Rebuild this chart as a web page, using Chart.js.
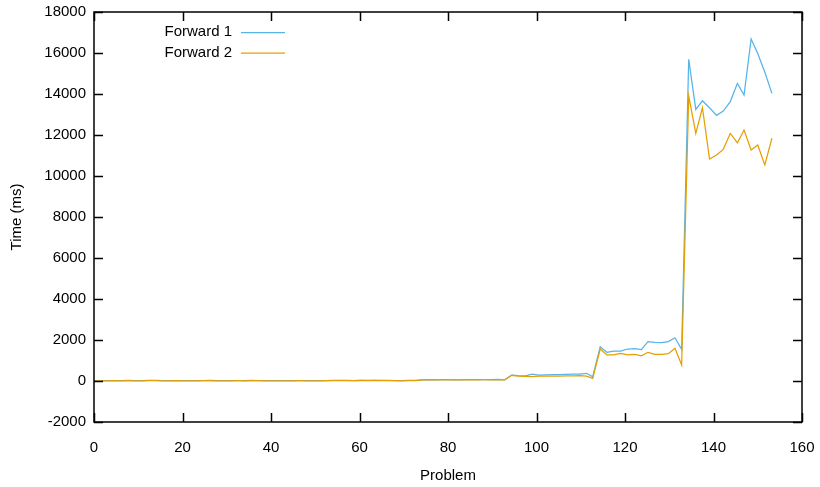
<!DOCTYPE html>
<html>
<head>
<meta charset="utf-8">
<script src="https://cdn.jsdelivr.net/npm/chart.js@4/dist/chart.umd.min.js"></script>
<style>
  html, body { margin: 0; padding: 0; background: #fff; }
  #wrap { width: 820px; height: 487px; }
</style>
</head>
<body>
<div id="wrap"><canvas id="chart" width="820" height="487"></canvas></div>
<script>
// problem numbers (x)
const problems = [
    0, 1.5, 3.1, 4.6, 6.2, 7.7, 9.3, 10.8, 12.4, 13.9,
    15.5, 17.0, 18.6, 20.1, 21.7, 23.2, 24.8, 26.3, 27.8, 29.4,
    30.9, 32.5, 34.0, 35.6, 37.1, 38.7, 40.2, 41.8, 43.3, 44.9,
    46.4, 48.0, 49.5, 51.1, 52.6, 54.1, 55.7, 57.2, 58.8, 60.3,
    61.9, 63.4, 65.0, 66.5, 68.1, 69.6, 71.2, 72.7, 74.3, 75.8,
    77.4, 78.9, 80.4, 82.0, 83.5, 85.1, 86.6, 88.2, 89.7, 91.3,
    92.8, 94.4, 95.9, 97.5, 99.0, 100.6, 102.1, 103.7, 105.2, 106.7,
    108.3, 109.8, 111.3, 112.7, 114.4, 115.9, 117.4, 119.0, 120.6, 122.2,
    123.7, 125.2, 126.7, 128.3, 129.8, 131.3, 132.8, 134.4, 136.0, 137.5,
    139.1, 140.7, 142.2, 143.8, 145.4, 146.9, 148.5, 150.0, 151.6, 153.2
];

// Forward 1 times (ms)
const forward1 = [
    20, 15, 18, 22, 20, 25, 20, 18, 30, 25,
    20, 18, 22, 20, 18, 20, 22, 25, 20, 18,
    20, 22, 20, 25, 22, 20, 18, 15, 18, 20,
    22, 20, 18, 20, 22, 25, 28, 25, 22, 30,
    28, 35, 30, 25, 22, 20, 25, 30, 60, 65,
    60, 62, 65, 60, 65, 70, 68, 72, 70, 75,
    60, 290, 260, 250, 330, 290, 300, 310, 310, 320,
    330, 340, 375, 210, 1670, 1400, 1460, 1460, 1560, 1580,
    1530, 1920, 1890, 1870, 1920, 2110, 1540, 15690, 13250, 13670,
    13330, 12960, 13170, 13630, 14520, 13950, 16680, 15980, 15060, 14030
];

// Forward 2 times (ms)
const forward2 = [
    10, 12, 10, 15, 12, 15, 12, 10, 20, 15,
    12, 10, 15, 12, 10, 12, 15, 18, 12, 10,
    12, 15, 12, 18, 15, 12, 10, 8, 10, 12,
    15, 12, 10, 12, 15, 18, 20, 18, 15, 25,
    20, 28, 22, 18, 15, 12, 18, 22, 50, 55,
    50, 52, 55, 50, 55, 60, 58, 62, 60, 65,
    50, 280, 240, 230, 210, 240, 240, 240, 240, 250,
    250, 260, 240, 130, 1560, 1270, 1270, 1350, 1270, 1300,
    1230, 1400, 1300, 1300, 1330, 1600, 780, 13900, 12080, 13330,
    10830, 11020, 11300, 12080, 11620, 12240, 11270, 11510, 10540, 11840
];

const xRange = [0, 160];
const yRange = [-2000, 18000];

const FONT = { family: '"Liberation Sans", Arial, sans-serif', size: 15 };

const toPoints = ys => ys.map((y, i) => ({ x: problems[i], y: y }));

// gnuplot-style frame with inward ticks on all four sides
const framePlugin = {
    id: 'frame',
    afterDraw(chart) {
        const { ctx, chartArea: a, scales } = chart;
        const len = 9;
        ctx.save();
        ctx.strokeStyle = '#000';
        ctx.lineWidth = 1.5;
        ctx.beginPath();
        scales.x.ticks.forEach(t => {
            const px = Math.round(scales.x.getPixelForValue(t.value)) + 0.5;
            ctx.moveTo(px, a.bottom); ctx.lineTo(px, a.bottom - len);
            ctx.moveTo(px, a.top); ctx.lineTo(px, a.top + len);
        });
        scales.y.ticks.forEach(t => {
            const py = Math.round(scales.y.getPixelForValue(t.value)) + 0.5;
            ctx.moveTo(a.left, py); ctx.lineTo(a.left + len, py);
            ctx.moveTo(a.right, py); ctx.lineTo(a.right - len, py);
        });
        ctx.stroke();
        ctx.strokeRect(a.left, a.top, a.right - a.left, a.bottom - a.top);
        ctx.restore();
    }
};

// legend in the top-left corner, text right aligned before the line sample
const keyPlugin = {
    id: 'key',
    afterDraw(chart) {
        const { ctx } = chart;
        ctx.save();
        ctx.font = FONT.size + 'px ' + FONT.family;
        ctx.textAlign = 'right';
        ctx.textBaseline = 'middle';
        chart.data.datasets.forEach((ds, i) => {
            const y = 32 + i * 20.5;
            ctx.fillStyle = '#000';
            ctx.fillText(ds.label, 232, y);
            ctx.strokeStyle = ds.borderColor;
            ctx.lineWidth = 1.25;
            ctx.beginPath();
            ctx.moveTo(241, y + 0.5);
            ctx.lineTo(285, y + 0.5);
            ctx.stroke();
        });
        ctx.restore();
    }
};

new Chart(document.getElementById('chart'), {
    type: 'line',
    data: {
        datasets: [
            {
                label: 'Forward 1',
                data: toPoints(forward1),
                borderColor: '#56b4e9',
                borderWidth: 1.25,
                pointRadius: 0,
                tension: 0,
                order: 2
            },
            {
                label: 'Forward 2',
                data: toPoints(forward2),
                borderColor: '#e69f00',
                borderWidth: 1.25,
                pointRadius: 0,
                tension: 0,
                order: 1
            }
        ]
    },
    options: {
        responsive: false,
        animation: false,
        layout: { padding: { top: 12, right: 18, left: 0, bottom: 0 } },
        plugins: {
            legend: { display: false },
            tooltip: { enabled: false }
        },
        scales: {
            x: {
                type: 'linear',
                min: xRange[0],
                max: xRange[1],
                grid: { display: false, drawTicks: false },
                border: { display: false },
                ticks: { stepSize: 20, color: '#000', font: FONT, padding: 17, maxRotation: 0, callback: v => String(v) },
                title: { display: true, text: 'Problem', color: '#000', font: FONT, padding: { top: 4, bottom: 2 } },
                afterFit: s => { s.height = 65; s.paddingLeft = 0; s.paddingRight = 0; }
            },
            y: {
                min: yRange[0],
                max: yRange[1],
                grid: { display: false, drawTicks: false },
                border: { display: false },
                ticks: { stepSize: 2000, color: '#000', font: FONT, padding: 8, callback: v => String(v) },
                title: { display: true, text: 'Time (ms)', color: '#000', font: FONT, padding: { top: 8, bottom: 0 } },
                afterFit: s => { s.width = 94; s.paddingTop = 0; s.paddingBottom = 0; }
            }
        }
    },
    plugins: [framePlugin, keyPlugin]
});
</script>
</body>
</html>
